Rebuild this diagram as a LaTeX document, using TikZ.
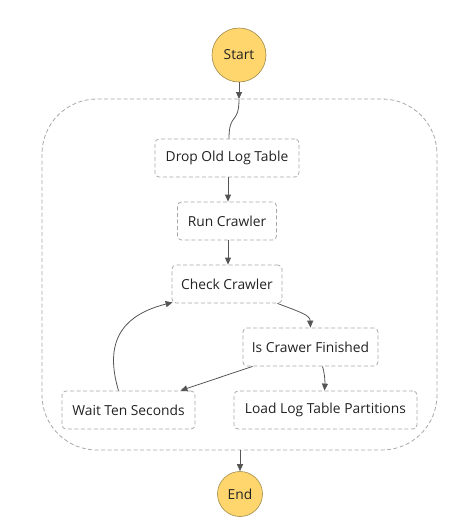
\documentclass[tikz,border=0pt]{standalone}
\usepackage{fontspec}
\setmainfont{Open Sans}
\usetikzlibrary{arrows.meta}
\definecolor{startfill}{HTML}{FFD66E}
\definecolor{circline}{HTML}{A08A4A}
\definecolor{boxline}{HTML}{A8A8A8}
\definecolor{txt}{HTML}{222222}
\definecolor{arr}{HTML}{555555}
\tikzset{
  state/.style={draw=boxline, dash pattern=on 4pt off 2.5pt, rounded corners=4pt, line width=0.8pt, minimum height=38pt, inner xsep=8pt, text=txt, font=\fontsize{13.8}{16}\selectfont},
  endpt/.style={circle, draw=circline, fill=startfill, line width=0.6pt, text=txt, inner sep=0pt, font=\fontsize{13.8}{16}\selectfont},
  conn/.style={draw=arr, line width=0.8pt, -{Triangle[length=7pt,width=6pt]}},
  plain/.style={draw=arr, line width=0.8pt},
}
\begin{document}
\begin{tikzpicture}[x=1pt,y=-1pt]
\useasboundingbox (0,0) rectangle (457,523);
% container
\draw[draw=boxline, dash pattern=on 4pt off 2.5pt, line width=0.8pt, rounded corners=55pt] (42,99) rectangle (437,450);
\coordinate (ctop) at (239,99);
\coordinate (cbot) at (240,450);
\node[endpt, minimum size=54pt] (start) at (239,55) {Start};
\node[endpt, minimum size=45pt] (end) at (240,494) {End};
\node[state, minimum width=144pt] (drop) at (227,158) {Drop Old Log Table};
\node[state, minimum width=99pt] (run) at (227,221) {Run Crawler};
\node[state, minimum width=110pt] (check) at (227,284) {Check Crawler};
\node[state, minimum width=135pt] (isfin) at (310.5,347) {Is Crawer Finished};
\node[state, minimum width=133pt] (wait) at (128.5,410) {Wait Ten Seconds};
\node[state, minimum width=183pt] (load) at (325.5,410) {Load Log Table Partitions};
% connectors
\draw[conn] (start) -- (ctop);
\draw[plain] (ctop) .. controls (239,125) and (229,112) .. ([xshift=2pt]drop.north);
\draw[conn] ([xshift=1pt]drop.south) -- ([xshift=1pt]run.north);
\draw[conn] ([xshift=1pt]run.south) -- ([xshift=1pt]check.north);
\draw[conn] ([xshift=-5pt]check.south east) .. controls (300,312) and (310,315) .. (isfin.north);
\draw[conn] ([xshift=10pt]isfin.south west) -- ([xshift=-15pt]wait.north east);
\draw[conn] ([xshift=12pt]isfin.south) .. controls (325,375) and (325,383) .. ([xshift=-1pt]load.north);
\draw[conn] ([xshift=-10pt]wait.north) .. controls (108,355) and (110,318) .. ([xshift=1pt,yshift=1pt]check.south west);
\draw[conn] (cbot) -- (end);
\end{tikzpicture}
\end{document}
